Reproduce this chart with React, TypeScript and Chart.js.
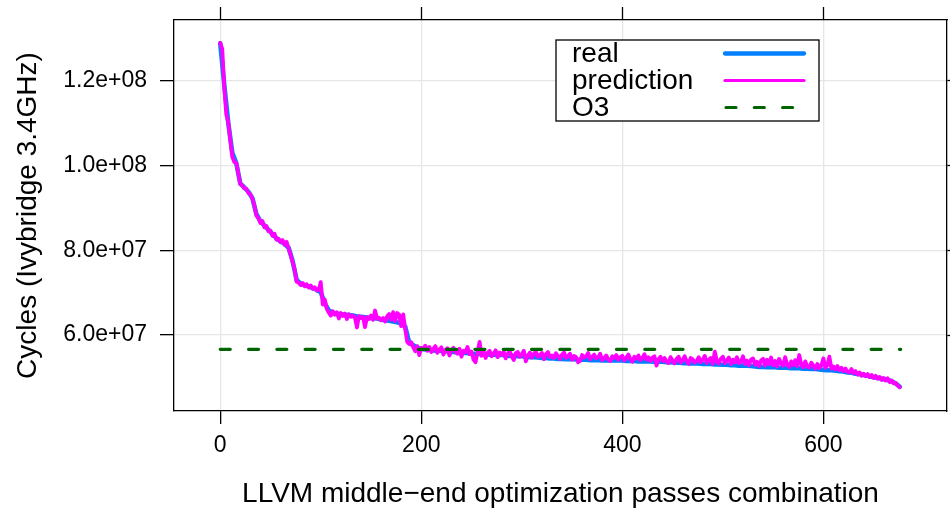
import React, { useEffect, useRef } from "react";
import { Chart, registerables } from "chart.js";

Chart.register(...registerables);

// ---- data (values in millions of cycles) ----
const REAL_STEP = 4; // pass index spacing of the real series samples
const realCycles = [
  128.8, 119, 110, 103, 100.5, 95.7, 94.8, 93.8, 92.3, 88.5,
  86.8, 85.8, 84.8, 83.8, 82.8, 82.1, 81.5, 80.6, 77.5, 73,
  72.1, 71.8, 71.5, 71.1, 70.7, 70.1, 67.5, 65.8, 65.3, 65.0,
  64.9, 64.8, 64.7, 64.6, 64.4, 64.3, 64.2, 64.1, 64.0, 63.9,
  63.7, 63.5, 63.4, 63.2, 63.0, 62.7, 62.0, 58.2, 57.6, 57.0,
  56.7, 56.6, 56.5, 56.4, 56.3, 56.3, 56.2, 56.1, 56.0, 55.9,
  55.9, 55.8, 55.7, 55.6, 55.6, 55.5, 55.5, 55.4, 55.4, 55.3,
  55.3, 55.2, 55.1, 55.1, 55.0, 55.0, 54.9, 54.8, 54.8, 54.7,
  54.6, 54.6, 54.5, 54.5, 54.4, 54.4, 54.3, 54.3, 54.3, 54.2,
  54.2, 54.2, 54.1, 54.1, 54.1, 54.0, 54.0, 54.0, 54.0, 54.0,
  54.0, 53.9, 53.9, 53.9, 53.8, 53.8, 53.8, 53.8, 53.7, 53.7,
  53.7, 53.6, 53.6, 53.5, 53.5, 53.4, 53.4, 53.3, 53.3, 53.3,
  53.2, 53.2, 53.2, 53.1, 53.1, 53.0, 53.0, 52.9, 52.9, 52.8,
  52.8, 52.8, 52.7, 52.6, 52.5, 52.5, 52.4, 52.4, 52.4, 52.3,
  52.3, 52.3, 52.2, 52.2, 52.2, 52.1, 52.1, 52.0, 52.0, 51.9,
  51.8, 51.7, 51.7, 51.6, 51.5, 51.4, 51.2, 51.1, 50.9, 50.8,
  50.6, 50.4, 50.2, 50.0, 49.8, 49.6, 49.4, 49.1, 48.6, 47.8,
];

const PRED_STEP = 2; // pass index spacing of the prediction samples
const predictedCycles = [
  // 0..18
  128.9, 127.5, 118.5, 112, 110.2, 106, 102, 100.8, 100.6, 98,
  // 20..38
  95.6, 95.3, 94.6, 94.5, 93.5, 93.2, 92.1, 90.5, 88.2, 87.6,
  // 40..58
  86.4, 86.9, 85.4, 85.7, 84.5, 84.6, 83.4, 83.9, 82.5, 82.7,
  // 60..78
  81.9, 82.4, 81.3, 82, 80.4, 79, 77.2, 75.5, 72.6, 72.4,
  // 80..98
  71.8, 72.3, 71.5, 72, 71.2, 71.7, 70.9, 71.3, 70.5, 70.7,
  // 100..118
  72.5, 67.2, 68.4, 66.2, 65.3, 64.6, 65.6, 64.8, 65.4, 63.9,
  // 120..138
  65.2, 64.5, 65.1, 63.8, 64.9, 64.3, 64.6, 64.1, 61.8, 64.5,
  // 140..158
  64.0, 64.3, 61.9, 64.2, 63.8, 64.6, 63.6, 65.8, 63.9, 64.1,
  // 160..178
  63.5, 64.0, 63.2, 64.4, 65.0, 63.6, 65.4, 63.3, 65.2, 64.8,
  // 180..198
  62.1, 64.9, 61.5, 58.4, 57.9, 58.3, 57.1, 56.2, 57.4, 55.3,
  // 200..218
  57.0, 56.9, 57.5, 56.3, 57.2, 56.0, 56.8, 57.4, 55.8, 56.6,
  // 220..238
  57.1, 55.4, 56.5, 56.9, 55.2, 56.4, 57.0, 56.1, 55.6, 56.8,
  // 240..258
  54.9, 56.3, 56.0, 57.2, 55.5, 56.1, 54.2, 53.6, 55.9, 58.4,
  // 260..278
  55.1, 56.2, 54.6, 55.8, 56.3, 55.0, 55.7, 56.4, 54.8, 55.9,
  // 280..298
  55.3, 56.1, 54.5, 55.6, 56.2, 55.0, 54.1, 55.8, 56.0, 54.9,
  // 300..318
  55.5, 56.3, 53.8, 55.2, 55.9, 54.7, 55.6, 56.1, 54.9, 55.3,
  // 320..338
  55.8, 54.3, 55.5, 56.0, 54.8, 55.2, 54.6, 55.7, 55.1, 54.4,
  // 340..358
  55.4, 55.9, 54.6, 55.0, 55.6, 54.2, 55.1, 54.8, 53.6, 53.9,
  // 360..378
  55.3, 54.7, 55.0, 55.8, 54.3, 54.9, 55.4, 54.5, 54.8, 55.6,
  // 380..398
  54.1, 54.6, 55.2, 54.3, 53.9, 55.0, 54.6, 55.3, 54.2, 54.8,
  // 400..418
  55.1, 54.0, 54.7, 55.4, 54.4, 53.7, 54.9, 54.5, 55.2, 54.1,
  // 420..438
  54.6, 55.5, 54.2, 54.8, 53.9, 54.7, 55.0, 52.8, 54.3, 54.9,
  // 440..458
  53.9, 54.6, 53.7, 53.4, 54.8, 54.0, 53.3, 54.4, 54.9, 53.5,
  // 460..478
  54.1, 55.0, 53.8, 53.2, 54.6, 54.3, 53.5, 53.9, 54.8, 53.6,
  // 480..498
  54.2, 55.1, 53.4, 54.2, 54.6, 53.2, 56.1, 53.9, 53.3, 54.4,
  // 500..518
  54.9, 53.4, 54.0, 54.7, 53.2, 54.2, 53.6, 54.8, 53.4, 53.7,
  // 520..538
  55.0, 53.2, 54.0, 52.9, 54.2, 54.5, 53.0, 53.7, 52.7, 54.0,
  // 540..558
  54.4, 52.8, 54.2, 53.2, 54.7, 52.9, 53.9, 52.6, 54.4, 53.3,
  // 560..578
  52.8, 54.8, 53.0, 52.5, 53.8, 52.9, 54.1, 52.7, 55.3, 53.1,
  // 580..598
  52.4, 53.8, 52.6, 52.3, 53.5, 52.8, 52.1, 53.2, 52.2, 52.8,
  // 600..618
  54.5, 52.3, 52.9, 54.9, 52.1, 52.6, 51.9, 52.7, 51.7, 52.3,
  // 620..638
  51.5, 52.1, 51.4, 51.2, 52.0, 51.0, 51.5, 50.7, 51.2, 50.4,
  // 640..658
  50.9, 50.3, 50.8, 50.1, 50.6, 49.9, 50.4, 49.7, 50.1, 49.4,
  // 660..676
  49.9, 49.3, 49.8, 48.9, 49.3, 48.6, 48.7, 48.1, 47.7,
];

const o3Passes = [0, 677];
const o3Cycles = [56.65, 56.65];

const xTickValues = [0, 200, 400, 600];
const yTickValues = [60e6, 80e6, 100e6, 120e6];
const yTickLabels = ["6.0e+07", "8.0e+07", "1.0e+08", "1.2e+08"];

const legendLabels = ["real", "prediction", "O3"];
const seriesColors = ["#0080ff", "#ff00ff", "#006400"];

const FONT = "'Liberation Sans', Arial, Helvetica, sans-serif";

const legendPlugin = {
  id: "latticeLegend",
  afterDraw(chart: any) {
    const ctx = chart.ctx;
    ctx.save();
    const bx = 556, by = 40, bw = 263, bh = 81;
    ctx.fillStyle = "#ffffff";
    ctx.fillRect(bx, by, bw, bh);
    ctx.strokeStyle = "#000000";
    ctx.lineWidth = 1.3;
    ctx.strokeRect(bx, by, bw, bh);
    const rows = [53.5, 80.5, 107.5];
    ctx.font = `28px ${FONT}`;
    ctx.textBaseline = "middle";
    ctx.textAlign = "left";
    legendLabels.forEach((lab, i) => {
      ctx.fillStyle = "#000000";
      ctx.fillText(lab, 572, rows[i] + 1);
      ctx.beginPath();
      ctx.strokeStyle = seriesColors[i];
      ctx.lineCap = "round";
      if (i === 0) { ctx.lineWidth = 4.3; ctx.setLineDash([]); }
      else if (i === 1) { ctx.lineWidth = 3.2; ctx.setLineDash([]); }
      else { ctx.lineWidth = 3.2; ctx.setLineDash([10, 18.3]); }
      ctx.moveTo(i === 2 ? 726 : 725, rows[i]);
      ctx.lineTo(i === 2 ? 794 : 804, rows[i]);
      ctx.stroke();
    });
    ctx.restore();
  },
};

const noPadX = (s: any, h: number) => { s.height = h; s.paddingLeft = 0; s.paddingRight = 0; };
const noPadY = (s: any, w: number) => { s.width = w; s.paddingTop = 0; s.paddingBottom = 0; };

export default function App() {
  const ref = useRef<HTMLCanvasElement | null>(null);
  useEffect(() => {
    if (!ref.current) return;
    const realData = realCycles.map((v, i) => ({ x: i * REAL_STEP, y: v * 1e6 }));
    const predData = predictedCycles.map((v, i) => ({ x: i * PRED_STEP, y: v * 1e6 }));
    const o3Data = o3Passes.map((p, i) => ({ x: p, y: o3Cycles[i] * 1e6 }));
    const gridColor = "#e6e6e6";
    const tickFont = { family: FONT, size: 23 };
    const chart = new Chart(ref.current, {
      type: "line",
      data: {
        datasets: [
          {
            label: "O3", data: o3Data, borderColor: seriesColors[2], borderWidth: 3.2,
            borderDash: [10, 18.3], borderCapStyle: "round", pointRadius: 0, order: 0,
          },
          {
            label: "prediction", data: predData, borderColor: seriesColors[1], borderWidth: 3.8,
            borderJoinStyle: "round", borderCapStyle: "round", pointRadius: 0, order: 1,
          },
          {
            label: "real", data: realData, borderColor: seriesColors[0], borderWidth: 4.6,
            borderJoinStyle: "round", borderCapStyle: "round", pointRadius: 0, order: 2,
          },
        ],
      } as any,
      options: {
        animation: false,
        responsive: false,
        maintainAspectRatio: false,
        layout: { padding: 0 },
        plugins: { legend: { display: false }, tooltip: { enabled: false }, title: { display: false } },
        elements: { line: { tension: 0 } },
        scales: {
          x: {
            type: "linear", position: "bottom", min: -46, max: 723,
            afterBuildTicks: (s: any) => { s.ticks = xTickValues.map((v) => ({ value: v })); },
            afterFit: (s: any) => noPadX(s, 101),
            ticks: { color: "#000", font: tickFont, padding: 8, maxRotation: 0, callback: (v: any) => String(v) },
            grid: { color: gridColor, lineWidth: 1.3, tickLength: 13, tickColor: "#000", tickWidth: 1.3 },
            border: { color: "#000", width: 1.3 },
            title: { display: true, text: "LLVM middle\u2212end optimization passes combination", color: "#000", font: { family: FONT, size: 28 }, padding: { top: 0, bottom: 1 } },
          },
          x2: {
            type: "linear", position: "top", min: -46, max: 723,
            afterBuildTicks: (s: any) => { s.ticks = xTickValues.map((v) => ({ value: v })); },
            afterFit: (s: any) => noPadX(s, 20),
            ticks: { display: false },
            grid: { drawOnChartArea: false, tickLength: 13, tickColor: "#000", tickWidth: 1.3 },
            border: { color: "#000", width: 1.3 },
          },
          y: {
            type: "linear", position: "left", min: 42.1e6, max: 134.3e6,
            afterBuildTicks: (s: any) => { s.ticks = yTickValues.map((v) => ({ value: v })); },
            afterFit: (s: any) => noPadY(s, 174),
            ticks: { color: "#000", font: tickFont, padding: 13, callback: (v: any) => yTickLabels[yTickValues.indexOf(v)] ?? "" },
            grid: { color: gridColor, lineWidth: 1.3, tickLength: 14, tickColor: "#000", tickWidth: 1.3 },
            border: { color: "#000", width: 1.3 },
            title: { display: true, text: "Cycles (Ivybridge 3.4GHz)", color: "#000", font: { family: FONT, size: 28 }, padding: { top: 11, bottom: 0 } },
          },
          y2: {
            type: "linear", position: "right", min: 42.1e6, max: 134.3e6,
            afterBuildTicks: (s: any) => { s.ticks = yTickValues.map((v) => ({ value: v })); },
            afterFit: (s: any) => noPadY(s, 3),
            ticks: { display: false },
            grid: { drawOnChartArea: false, tickLength: 13, tickColor: "#000", tickWidth: 1.3 },
            border: { color: "#000", width: 1.3 },
          },
        },
      } as any,
      plugins: [legendPlugin],
    });
    return () => chart.destroy();
  }, []);
  return (
    <div style={{ position: "absolute", left: 0, top: 0, width: 950, height: 512, background: "#fff" }}>
      <canvas ref={ref} width={950} height={512} style={{ display: "block" }} />
    </div>
  );
}
